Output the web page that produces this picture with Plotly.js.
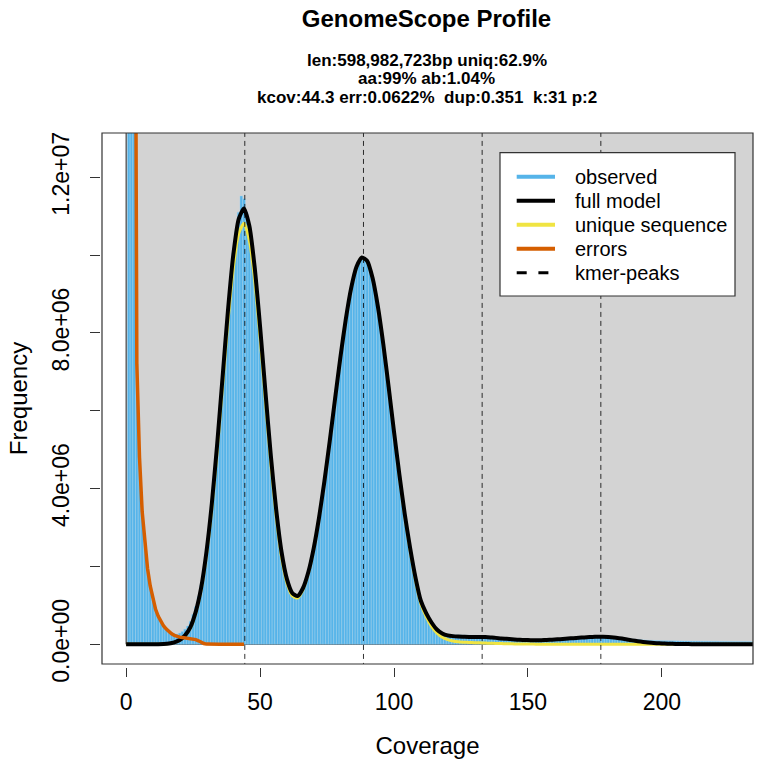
<!DOCTYPE html>
<html><head><meta charset="utf-8">
<script src="https://cdn.plot.ly/plotly-3.0.1.min.js"></script>
<style>html,body{margin:0;padding:0;background:#fff}</style>
</head><body>
<div id="chart" style="width:762px;height:769px"></div>
<script>
// ---- data (frequencies in millions of k-mers) ----
// observed histogram, coverage 1..235
const observedM = [
 150, 60, 27, 7.2, 4.8, 3.4, 2.55, 1.95, 1.5, 1.15,
 0.9, 0.73, 0.59, 0.48, 0.4, 0.34, 0.3, 0.27, 0.26, 0.29,
 0.33, 0.39, 0.47, 0.59, 0.77, 0.97, 1.23, 1.52, 1.9, 2.38,
 2.97, 3.62, 4.37, 5.18, 6.02, 6.88, 7.75, 8.6, 9.35, 10.05,
 10.6, 11.1, 11.52, 11.45, 11.1, 10.8, 10.3, 9.72, 9.0, 8.2,
 7.36, 6.52, 5.7, 4.9, 4.16, 3.5, 2.92, 2.42, 2.02, 1.7,
 1.47, 1.33, 1.26, 1.25, 1.3, 1.44, 1.62, 1.86, 2.14, 2.46,
 2.84, 3.25, 3.7, 4.18, 4.7, 5.22, 5.77, 6.31, 6.85, 7.38,
 7.88, 8.35, 8.78, 9.15, 9.46, 9.7, 9.86, 9.94, 9.93, 9.85,
 9.66, 9.41, 9.07, 8.67, 8.21, 7.71, 7.17, 6.61, 6.04, 5.46,
 4.9, 4.36, 3.84, 3.35, 2.9, 2.48, 2.1, 1.74, 1.42, 1.14,
 0.95, 0.8, 0.67, 0.57, 0.48, 0.41, 0.35, 0.31, 0.28, 0.26,
 0.25, 0.245, 0.24, 0.24, 0.24, 0.238, 0.236, 0.234, 0.232, 0.23,
 0.228, 0.226, 0.222, 0.218, 0.212, 0.205, 0.198, 0.19, 0.182, 0.175,
 0.168, 0.16, 0.154, 0.148, 0.142, 0.137, 0.133, 0.13, 0.128, 0.126,
 0.125, 0.124, 0.124, 0.125, 0.126, 0.128, 0.131, 0.134, 0.138, 0.142,
 0.147, 0.152, 0.157, 0.162, 0.167, 0.172, 0.177, 0.182, 0.187, 0.191,
 0.195, 0.198, 0.201, 0.203, 0.204, 0.205, 0.205, 0.204, 0.202, 0.199,
 0.195, 0.19, 0.184, 0.177, 0.169, 0.161, 0.153, 0.145, 0.137, 0.13,
 0.124, 0.118, 0.113, 0.109, 0.105, 0.102, 0.099, 0.097, 0.095, 0.093,
 0.092, 0.091, 0.09, 0.089, 0.088, 0.087, 0.086, 0.085, 0.085, 0.084,
 0.083, 0.082, 0.082, 0.081, 0.08, 0.079, 0.079, 0.078, 0.077, 0.077,
 0.076, 0.075, 0.075, 0.074, 0.073, 0.073, 0.072, 0.071, 0.071, 0.07,
 0.07, 0.069, 0.069, 0.068, 0.068
];
const observedStart = 1;

// full model and unique sequence, coverage 0..234 in steps of 2
const modelStep = 2;
const fullModelM = [
 0, 0, 0, 0, 0,
 0.001, 0.003, 0.008, 0.02, 0.05, 0.11,
 0.23, 0.44, 0.84, 1.45, 2.38, 3.62, 5.15, 6.86, 8.56, 10.0, 10.92, 11.2,
 10.75, 9.68, 8.17, 6.49, 4.86, 3.47, 2.38, 1.68, 1.32, 1.24, 1.44, 1.85, 2.46, 3.25,
 4.18, 5.22, 6.31, 7.38, 8.35, 9.15, 9.70, 9.94, 9.85, 9.41, 8.67, 7.71, 6.61, 5.46,
 4.36, 3.35, 2.48, 1.72, 1.12, 0.80, 0.56, 0.38, 0.28, 0.23, 0.21, 0.20, 0.195, 0.19,
 0.19, 0.19, 0.185, 0.175, 0.165, 0.15, 0.14, 0.13, 0.12, 0.112, 0.108, 0.105, 0.105,
 0.108, 0.114, 0.122,
 0.132, 0.142, 0.153, 0.163, 0.173, 0.182, 0.189, 0.193, 0.193, 0.188, 0.176, 0.158,
 0.136, 0.112, 0.09, 0.07, 0.053, 0.04, 0.03, 0.022, 0.016, 0.012, 0.009, 0.007, 0.005,
 0.004, 0.003, 0.003, 0.002, 0.002, 0.002, 0.001, 0.001, 0.001, 0.001, 0.001, 0.001
];
const uniqueSeqM = [
 0, 0, 0, 0, 0,
 0.001, 0.003, 0.008, 0.019, 0.048, 0.106,
 0.22, 0.42, 0.81, 1.40, 2.3, 3.5, 4.97, 6.63, 8.27, 9.66, 10.55, 10.82,
 10.38, 9.35, 7.88, 6.25, 4.66, 3.3, 2.25, 1.58, 1.25, 1.19, 1.4, 1.82, 2.44, 3.24,
 4.17, 5.21, 6.3, 7.37, 8.34, 9.14, 9.69, 9.93, 9.84, 9.4, 8.66, 7.7, 6.6, 5.44,
 4.33, 3.31, 2.43, 1.66, 1.05, 0.71, 0.46, 0.29, 0.18, 0.12, 0.085, 0.065, 0.055, 0.048,
 0.042, 0.037, 0.032, 0.027, 0.022, 0.018, 0.015, 0.012, 0.01, 0.008, 0.006, 0.005, 0.004,
 0.003, 0.002, 0.002,
 0.001, 0.001, 0.001, 0.001, 0.001, 0.001, 0.001, 0.001, 0.001, 0.001,
 0, 0, 0, 0, 0, 0, 0, 0, 0, 0, 0, 0, 0, 0, 0, 0, 0, 0, 0, 0, 0, 0, 0, 0, 0, 0, 0
];
// error k-mers, coverage 1..44
const errorsM = [
 150, 60, 27, 7.2, 4.8, 3.4, 2.55, 1.95, 1.5, 1.15,
 0.9, 0.72, 0.58, 0.47, 0.39, 0.32, 0.27, 0.23, 0.2, 0.185,
 0.175, 0.165, 0.16, 0.15, 0.14, 0.12, 0.09, 0.05, 0.02, 0.005,
 0, 0, 0, 0, 0, 0, 0, 0, 0, 0,
 0, 0, 0, 0
];
const errorsStart = 1;
const kmerPeaks = [44.3, 88.6, 132.9, 177.2];

const xTickVals = [0, 50, 100, 150, 200];
const yTickVals = [0, 2e6, 4e6, 6e6, 8e6, 10e6, 12e6];
const yTickText = ['0.0e+00', '', '4.0e+06', '', '8.0e+06', '', '1.2e+07'];
const titleText = 'GenomeScope Profile';
const subtitleLines = ['len:598,982,723bp uniq:62.9%', 'aa:99% ab:1.04%', 'kcov:44.3 err:0.0622%  dup:0.351  k:31 p:2'];
const legendNames = ['observed', 'full model', 'unique sequence', 'errors', 'kmer-peaks'];

// ---- styling ----
const C_HIST = '#56B4E9', C_BG = '#D3D3D3', C_ERR = '#D55E00', C_UNIQ = '#F0E442', C_FULL = '#000000';
const legendColors = [C_HIST, C_FULL, C_UNIQ, C_ERR, '#000000'];
const FONT = 'Liberation Sans, Arial, Helvetica, sans-serif';
const M = 1e6;

const W = 762, H = 769, ml = 100, mr = 9, mt = 133, mb = 102;
const pw = W - ml - mr, ph = H - mt - mb;
const px2paper = px => (px - ml) / pw;
const py2paper = py => (H - mb - py) / ph;

const obsX = observedM.map((_, i) => i + observedStart);
const obsY = observedM.map(v => v * M);
const modX = fullModelM.map((_, i) => i * modelStep);
const errX = errorsM.map((_, i) => i + errorsStart);

const peakX = [], peakY = [];
kmerPeaks.forEach(p => { peakX.push(p, p, null); peakY.push(-5 * M, 50 * M, null); });

const traces = [
  {type: 'bar', x: obsX, y: obsY, width: 1, marker: {color: C_HIST, line: {width: 0.5, color: 'rgba(170,215,240,0.8)'}}, showlegend: false, hoverinfo: 'skip'},
  {type: 'scatter', mode: 'lines', x: modX, y: uniqueSeqM.map(v => v * M), line: {color: C_UNIQ, width: 3, shape: 'spline', smoothing: 0.6}, showlegend: false},
  {type: 'scatter', mode: 'lines', x: modX, y: fullModelM.map(v => v * M), line: {color: C_FULL, width: 4, shape: 'spline', smoothing: 0.6}, showlegend: false},
  {type: 'scatter', mode: 'lines', x: errX, y: errorsM.map(v => v * M), line: {color: C_ERR, width: 3.5}, showlegend: false},
  {type: 'scatter', mode: 'lines', x: peakX, y: peakY, line: {color: '#000', width: 1, dash: '5px,4px'}, opacity: 0.8, showlegend: false}
];

// title lines
const annotations = subtitleLines.map((t, i) => ({
  text: '<b>' + t.replace(/  /g, ' \u00a0') + '</b>', xref: 'paper', yref: 'paper', x: 0.5, y: py2paper(60 + i * 19),
  xanchor: 'center', yanchor: 'middle', showarrow: false, font: {size: 17, family: FONT, color: '#000'}
}));

// legend (R-style box in the top right corner)
const LG = {left: 500, right: 735, top: 152.7, bottom: 296, row0: 176.7, rowStep: 24, lineX0: 516.7, lineX1: 555, textX: 572.7};
const shapes = [
  {type: 'rect', xref: 'x', yref: 'y', x0: 0, x1: 10000, y0: 0, y1: 1e10, fillcolor: C_BG, line: {color: '#222', width: 1}, layer: 'below'},
  {type: 'rect', xref: 'x domain', yref: 'y domain', x0: 0, x1: 1, y0: 0, y1: 1, line: {color: '#333', width: 1.2}, fillcolor: 'rgba(0,0,0,0)', layer: 'above'},
  {type: 'rect', xref: 'paper', yref: 'paper', x0: px2paper(LG.left), x1: px2paper(LG.right), y0: py2paper(LG.bottom), y1: py2paper(LG.top),
    fillcolor: '#fff', line: {color: '#333', width: 1.2}, layer: 'above'}
];
legendNames.forEach((name, i) => {
  const yy = py2paper(LG.row0 + i * LG.rowStep);
  const dashed = name === 'kmer-peaks';
  shapes.push({type: 'line', xref: 'paper', yref: 'paper', x0: px2paper(LG.lineX0), x1: px2paper(LG.lineX1), y0: yy, y1: yy,
    line: {color: legendColors[i], width: dashed ? 3 : 4, dash: dashed ? '10px,11.7px' : 'solid'}, layer: 'above'});
  annotations.push({text: name, xref: 'paper', yref: 'paper', x: px2paper(LG.textX), y: yy, xanchor: 'left', yanchor: 'middle',
    showarrow: false, font: {size: 20, family: FONT, color: '#000'}});
});

const layout = {
  width: W, height: H,
  margin: {l: ml, r: mr, t: mt, b: mb, pad: 0},
  paper_bgcolor: '#fff', plot_bgcolor: '#fff',
  font: {family: FONT, color: '#000'},
  title: {text: '<b>' + titleText + '</b>', font: {size: 24, family: FONT, color: '#000'}, xref: 'paper', x: 0.5, xanchor: 'center', yref: 'container', y: 1 - 19 / H, yanchor: 'middle'},
  xaxis: {domain: [2 / pw, 1], range: [-9, 234], anchor: 'free', position: 0, showline: false, zeroline: false, showgrid: false,
    ticks: 'outside', ticklen: 9, tickwidth: 1, tickcolor: '#333', tickvals: xTickVals, ticktext: xTickVals.map(String),
    tickfont: {size: 23, family: FONT, color: '#000'}, ticklabelstandoff: 5,
    title: {text: 'Coverage', font: {size: 24, family: FONT, color: '#000'}, standoff: 23}},
  yaxis: {domain: [3 / ph, 1], range: [-0.506 * M, 13.137 * M], anchor: 'free', position: 0, showline: false, zeroline: false, showgrid: false,
    ticks: 'outside', ticklen: 10, tickwidth: 1, tickcolor: '#333', tickvals: yTickVals, ticktext: yTickText, tickangle: -90,
    tickfont: {size: 23, family: FONT, color: '#000'}, ticklabelstandoff: 12,
    title: {text: 'Frequency', font: {size: 24, family: FONT, color: '#000'}, standoff: 12}},
  shapes: shapes,
  annotations: annotations,
  showlegend: false,
  bargap: 0
};

Plotly.newPlot('chart', traces, layout, {displayModeBar: false, staticPlot: true});
</script>
</body></html>
